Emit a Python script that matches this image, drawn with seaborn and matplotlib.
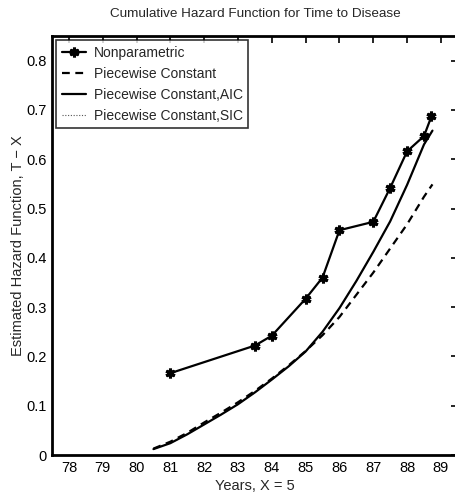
import matplotlib
matplotlib.use("Agg")
import matplotlib.pyplot as plt
import seaborn as sns
import pandas as pd

sns.set_style("white")
plt.rcParams['font.family'] = ['Liberation Sans', 'DejaVu Sans']

# Nonparametric estimate
np_years = [81, 83.5, 84, 85, 85.5, 86, 87, 87.5, 88, 88.5, 88.72]
np_hazard = [0.166, 0.222, 0.242, 0.317, 0.360, 0.456, 0.473, 0.542, 0.616, 0.647, 0.687]

# Piecewise constant curves
pc_years = [80.5, 81, 81.5, 82, 82.5, 83, 83.5, 84, 84.5, 85, 85.5, 86, 86.5, 87, 87.5, 88, 88.5, 88.75]
pc_hazard = [0.013, 0.027, 0.045, 0.066, 0.086, 0.107, 0.130, 0.155, 0.182, 0.211, 0.243, 0.280,
             0.325, 0.370, 0.419, 0.468, 0.524, 0.549]
aic_hazard = [0.012, 0.024, 0.042, 0.062, 0.082, 0.103, 0.127, 0.153, 0.180, 0.210, 0.250, 0.298,
              0.353, 0.412, 0.474, 0.548, 0.630, 0.658]
sic_hazard = [0.012, 0.024, 0.042, 0.062, 0.082, 0.103, 0.127, 0.153, 0.180, 0.210, 0.250, 0.298,
              0.353, 0.412, 0.474, 0.548, 0.630, 0.658]

x_ticks = [78, 79, 80, 81, 82, 83, 84, 85, 86, 87, 88, 89]
y_ticks = [0, 0.1, 0.2, 0.3, 0.4, 0.5, 0.6, 0.7, 0.8]
y_ticklabels = ["0", "0.1", "0.2", "0.3", "0.4", "0.5", "0.6", "0.7", "0.8"]

fig = plt.figure(figsize=(4.56, 5.04), dpi=100)
ax = fig.add_axes([0.114, 0.0972, 0.89, 0.8314])

sns.lineplot(x=pc_years, y=sic_hazard, ax=ax, color="#555555", lw=0.8, linestyle=(0, (1, 1.5)),
             label="Piecewise Constant,SIC", zorder=1)
sns.lineplot(x=np_years, y=np_hazard, ax=ax, color="black", lw=1.6, marker=(6, 2, 0),
             markersize=7, markeredgewidth=2.2, markeredgecolor="black", label="Nonparametric")
sns.lineplot(x=pc_years, y=pc_hazard, ax=ax, color="black", lw=1.6, linestyle=(0, (3.5, 2.5)),
             label="Piecewise Constant")
sns.lineplot(x=pc_years, y=aic_hazard, ax=ax, color="black", lw=1.6, linestyle="-",
             label="Piecewise Constant,AIC")

ax.set_xlim(77.5, 89.5)
ax.set_ylim(0, 0.85)
ax.set_xticks(x_ticks)
ax.set_yticks(y_ticks)
ax.set_yticklabels(y_ticklabels)
ax.tick_params(direction="in", length=5, width=1.2, top=True, right=True, labelsize=10.5,
               colors="black", pad=4)
for s in ax.spines.values():
    s.set_linewidth(2)
    s.set_color("black")

ax.set_title("Cumulative Hazard Function for Time to Disease", fontsize=9.7, pad=14)
ax.set_xlabel("Years, X = 5", fontsize=10.5, labelpad=3)
ax.set_ylabel("Estimated Hazard Function, T \u2212 X", fontsize=10.5, labelpad=1)

handles, labels = ax.get_legend_handles_labels()
order = ["Nonparametric", "Piecewise Constant", "Piecewise Constant,AIC", "Piecewise Constant,SIC"]
hmap = dict(zip(labels, handles))
leg = ax.legend([hmap[l] for l in order], order, loc="upper left", fontsize=10, frameon=True,
                fancybox=False, borderaxespad=0.3, handlelength=1.75, labelspacing=0.5,
                borderpad=0.4, handletextpad=0.55)
leg.get_frame().set_edgecolor("black")
leg.get_frame().set_linewidth(1.2)

fig.savefig("out.png", dpi=100)
